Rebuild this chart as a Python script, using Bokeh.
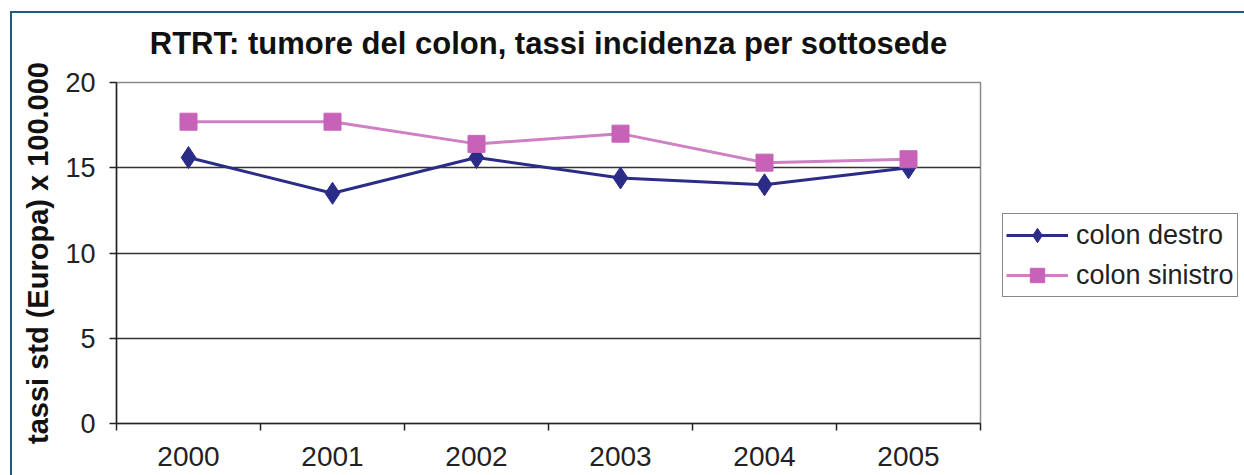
from bokeh.plotting import figure
from bokeh.models import FixedTicker, Legend, LegendItem, Title
from bokeh.embed import file_html
from bokeh.resources import INLINE

years = ["2000", "2001", "2002", "2003", "2004", "2005"]
colon_destro = [15.6, 13.5, 15.6, 14.4, 14.0, 15.0]
colon_sinistro = [17.7, 17.7, 16.4, 17.0, 15.3, 15.5]
y_ticks = [0, 5, 10, 15, 20]

xpos = [i + 0.5 for i in range(len(years))]

FONT = "Liberation Sans"
TEAL = "#1d5d7a"

p = figure(frame_width=864, frame_height=341, output_backend="svg", toolbar_location=None,
           x_range=(0, len(years)), y_range=(0, 20),
           min_border_left=106, min_border_right=264, min_border_top=82, min_border_bottom=52)
p.margin = (0, 0, 0, 10)
p.styles = {
    "background": (f"linear-gradient({TEAL}, {TEAL}) 0px 11px / 100% 2px no-repeat, "
                   f"linear-gradient({TEAL}, {TEAL}) 0px 11px / 2px 100% no-repeat, white"),
}
p.border_fill_color = None

p.title = Title(text="RTRT: tumore del colon, tassi incidenza per sottosede", align="center",
                text_font=FONT, text_font_size="31px", text_font_style="bold", text_color="#111111",
                standoff=44)

p.outline_line_color = "#8a8a8a"
p.outline_line_width = 1.5
p.background_fill_color = "white"

# x axis
p.xaxis.ticker = FixedTicker(ticks=xpos, minor_ticks=list(range(len(years) + 1)))
p.xaxis.major_label_overrides = {x: y for x, y in zip(xpos, years)}
p.xaxis.major_tick_line_color = None
p.xaxis.minor_tick_in = 0
p.xaxis.minor_tick_out = 7
p.xaxis.minor_tick_line_color = "#222222"
p.xaxis.minor_tick_line_width = 1.5
p.xaxis.axis_line_color = "#222222"
p.xaxis.axis_line_width = 1.5
p.xaxis.major_label_text_font = FONT
p.xaxis.major_label_text_font_size = "28px"
p.xaxis.major_label_text_color = "#222222"
p.xaxis.major_label_standoff = 16
p.xgrid.grid_line_color = None

# y axis
p.yaxis.ticker = FixedTicker(ticks=y_ticks)
p.yaxis.minor_tick_line_color = None
p.yaxis.major_tick_in = 0
p.yaxis.major_tick_out = 7
p.yaxis.major_tick_line_color = "#222222"
p.yaxis.major_tick_line_width = 1.5
p.yaxis.axis_line_color = "#222222"
p.yaxis.axis_line_width = 1.5
p.yaxis.major_label_text_font = FONT
p.yaxis.major_label_text_font_size = "27px"
p.yaxis.major_label_text_color = "#222222"
p.yaxis.major_label_standoff = 14
p.yaxis.axis_label = "tassi std (Europa) x 100.000"
p.yaxis.axis_label_text_font = FONT
p.yaxis.axis_label_text_font_size = "29px"
p.yaxis.axis_label_text_font_style = "bold"
p.yaxis.axis_label_text_color = "#111111"
p.yaxis.axis_label_standoff = 8
p.ygrid.ticker = FixedTicker(ticks=[5, 10, 15])
p.ygrid.grid_line_color = "#333333"
p.ygrid.grid_line_width = 1.5

c_destro = "#2b2c88"
c_sin_line = "#cf7fc3"
c_sin_mark = "#c862b9"

l1 = p.line(xpos, colon_destro, line_color=c_destro, line_width=3)
m1 = p.scatter(xpos, colon_destro, marker="diamond", size=22, fill_color=c_destro, line_color=c_destro)
l2 = p.line(xpos, colon_sinistro, line_color=c_sin_line, line_width=3)
m2 = p.scatter(xpos, colon_sinistro, marker="square", size=17, fill_color=c_sin_mark, line_color=c_sin_mark)

legend = Legend(items=[LegendItem(label="colon destro", renderers=[l1, m1]),
                       LegendItem(label="colon sinistro", renderers=[l2, m2])],
                location=(22, 126))
legend.border_line_color = "#111111"
legend.border_line_width = 1.5
legend.label_text_font = FONT
legend.label_text_font_size = "27px"
legend.label_text_color = "#222222"
legend.label_height = 36
legend.glyph_width = 62
legend.glyph_height = 36
legend.spacing = 4
legend.padding = 3
legend.margin = 0
legend.label_standoff = 8
legend.background_fill_color = "white"
p.add_layout(legend, "right")

open("out.html", "w").write(file_html(p, INLINE))
